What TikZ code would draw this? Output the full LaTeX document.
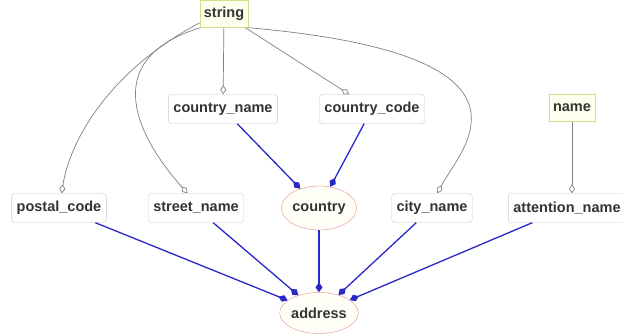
\documentclass[tikz,border=0pt]{standalone}
\usepackage{fontspec}
\setmainfont{Liberation Sans}
\usetikzlibrary{arrows.meta,shapes.geometric}

\definecolor{attrline}{RGB}{200,200,200}
\definecolor{primline}{RGB}{214,222,140}
\definecolor{primfill}{RGB}{255,255,238}
\definecolor{clsline}{RGB}{226,140,140}
\definecolor{clsfill}{RGB}{255,255,248}
\definecolor{linkblue}{RGB}{40,40,200}

\begin{document}
\begin{tikzpicture}[x=1pt,y=-1pt,
  every node/.style={font=\fontsize{14.5}{17}\selectfont\bfseries,text=black!80},
  attr/.style={draw=attrline,fill=white,rounded corners=3pt,minimum height=29pt,inner xsep=5pt},
  prim/.style={draw=primline,fill=primfill,minimum height=27pt,inner xsep=4pt},
  cls/.style={ellipse,draw=clsline,fill=clsfill,inner sep=0pt},
  typeof/.style={draw=gray,line width=.7pt,-{Diamond[open,length=9pt,width=6pt]}},
  partof/.style={draw=linkblue,line width=1.3pt,-{Diamond[length=10pt,width=7pt]}}]

\useasboundingbox (0,0) rectangle (623,335);

% primitive types
\node[prim] (str) at (224,14) {string};
\node[prim] (nm) at (572,108) {name};

% attributes
\node[attr] (cname) at (223,109) {country\_name};
\node[attr] (ccode) at (372,109) {country\_code};
\node[attr] (postal) at (59,208) {postal\_code};
\node[attr] (street) at (196,208) {street\_name};
\node[attr] (city) at (432,208) {city\_name};
\node[attr] (attn) at (567,208) {attention\_name};

% classes
\node[cls,minimum width=68pt,minimum height=44pt] (country) at (319,208) {country};
\node[cls,minimum width=74pt,minimum height=41pt] (addr) at (319,313) {address};

% type links
\draw[typeof] (str.200) .. controls (110,70) and (70,140) .. (postal.80);
\draw[typeof] (str.210) .. controls (95,60) and (140,140) .. (street.120);
\draw[typeof] (str) -- (cname);
\draw[typeof] (str) -- (ccode);
\draw[typeof] (str.south east) .. controls (560,55) and (460,150) .. (city.70);
\draw[typeof] (nm) -- (attn.north -| nm);

% part links
\draw[partof] (cname) -- (country);
\draw[partof] (ccode) -- (country);
\draw[partof] (postal) -- (addr);
\draw[partof] (street) -- (addr);
\draw[partof] (country) -- (addr);
\draw[partof] (city) -- (addr);
\draw[partof] (attn) -- (addr);

\end{tikzpicture}
\end{document}
